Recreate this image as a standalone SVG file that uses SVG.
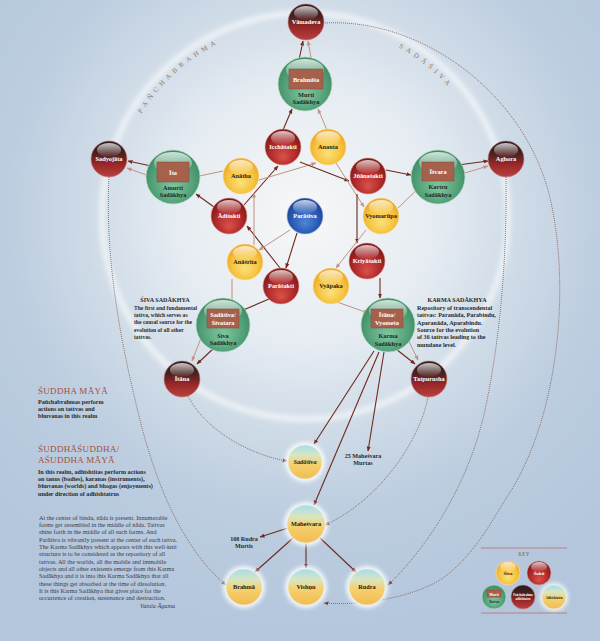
<svg xmlns="http://www.w3.org/2000/svg" width="600" height="641" viewBox="0 0 600 641">
<defs>
<radialGradient id="bg" gradientUnits="userSpaceOnUse" cx="305" cy="215" r="430">
<stop offset="0" stop-color="#f6f7f8"/><stop offset="0.3" stop-color="#e6ecf2"/><stop offset="0.5" stop-color="#cfdbe7"/><stop offset="0.7" stop-color="#bccde0"/><stop offset="1" stop-color="#b4c6dc"/>
</radialGradient>
<radialGradient id="gRed" cx="0.5" cy="0.6" r="0.6" fx="0.5" fy="0.8"><stop offset="0" stop-color="#d9514a"/><stop offset="0.6" stop-color="#b02a2a"/><stop offset="1" stop-color="#7a1616"/></radialGradient>
<linearGradient id="gDark" x1="0" y1="0" x2="0" y2="1"><stop offset="0" stop-color="#2a1a1a"/><stop offset="0.35" stop-color="#4a2020"/><stop offset="0.65" stop-color="#9a2828"/><stop offset="1" stop-color="#b84040"/></linearGradient>
<radialGradient id="gYel" cx="0.5" cy="0.55" r="0.6" fx="0.5" fy="0.7"><stop offset="0" stop-color="#fbe07a"/><stop offset="0.6" stop-color="#f6c440"/><stop offset="1" stop-color="#e8a01e"/></radialGradient>
<radialGradient id="gGrn" cx="0.5" cy="0.55" r="0.6" fx="0.5" fy="0.7"><stop offset="0" stop-color="#80c69e"/><stop offset="0.65" stop-color="#52a078"/><stop offset="1" stop-color="#3a855e"/></radialGradient>
<radialGradient id="gBlu" cx="0.5" cy="0.55" r="0.6" fx="0.5" fy="0.7"><stop offset="0" stop-color="#4f86d6"/><stop offset="0.6" stop-color="#2a5cb5"/><stop offset="1" stop-color="#1a3c8a"/></radialGradient>
<linearGradient id="gAdh" x1="0" y1="0" x2="0" y2="1"><stop offset="0" stop-color="#a6dcec"/><stop offset="0.3" stop-color="#d8e6c0"/><stop offset="0.55" stop-color="#f6d070"/><stop offset="1" stop-color="#f0bc50"/></linearGradient>
<linearGradient id="gHl" x1="0" y1="0" x2="0" y2="1"><stop offset="0" stop-color="#fff" stop-opacity="0.75"/><stop offset="1" stop-color="#fff" stop-opacity="0"/></linearGradient>
<filter id="blur" x="-50%" y="-50%" width="200%" height="200%"><feGaussianBlur stdDeviation="2.5"/></filter>
<filter id="glow" x="-50%" y="-50%" width="200%" height="200%"><feGaussianBlur stdDeviation="2"/></filter>
<marker id="ad" viewBox="0 0 10 10" refX="9" refY="5" markerWidth="5" markerHeight="5" orient="auto" markerUnits="userSpaceOnUse"><path d="M0,1 L10,5 L0,9 z" fill="#6e2a1c"/></marker>
<marker id="al" viewBox="0 0 10 10" refX="9" refY="5" markerWidth="5" markerHeight="5" orient="auto" markerUnits="userSpaceOnUse"><path d="M0,1 L10,5 L0,9 z" fill="#c09282"/></marker>
<marker id="ap" viewBox="0 0 10 10" refX="9" refY="5" markerWidth="5" markerHeight="5" orient="auto" markerUnits="userSpaceOnUse"><path d="M0,1 L10,5 L0,9 z" fill="#7a4030"/></marker>
<style>
.red{fill:url(#gRed);stroke:#e4a4a0;stroke-width:0.6}
.dark{fill:url(#gDark);stroke:#c88a8a;stroke-width:0.6}
.yel{fill:url(#gYel);stroke:#fbe6a8;stroke-width:0.6}
.grn{fill:url(#gGrn);stroke:#b4e0c8;stroke-width:0.7}
.blu{fill:url(#gBlu);stroke:#a8c0ea;stroke-width:0.6}
.adh{fill:url(#gAdh);stroke:#e8f0e0;stroke-width:0.6}
.hl{fill:url(#gHl)}
.halo{fill:#fff;opacity:0.85;filter:url(#glow)}
.rect{fill:#a5614b;stroke:#8a4a38;stroke-width:0.5}
text{font-family:"Liberation Serif",serif}
.wt{fill:#fff;font-size:6.3px;font-weight:bold;text-anchor:middle}
.dt{fill:#2a1a10;font-size:6.3px;font-weight:bold;text-anchor:middle}
.gt{fill:#1e2a1e;font-size:6.3px;font-weight:bold;text-anchor:middle}
.d{fill:none;stroke:#6e2a1c;stroke-width:1.1;marker-end:url(#ad)}
.l{fill:none;stroke:#c09282;stroke-width:1;marker-end:url(#al)}
.dot{fill:none;stroke:#7a5a50;stroke-width:0.9;stroke-dasharray:0.9 1.1;marker-end:url(#ap)}
.note{fill:#2a2a2a;font-size:6.1px;font-weight:bold}
.par{fill:#3a3a48;font-size:6.2px}
.head{fill:#a2503a;font-size:9px;letter-spacing:0.3px}
.arc{fill:#8c7a6e;font-size:7px;letter-spacing:4px}
.k{font-size:6px;font-weight:bold;text-anchor:middle}
</style>
</defs>
<rect width="600" height="641" fill="url(#bg)"/>
<circle cx="305" cy="216" r="203" fill="none" stroke="#ffffff" stroke-width="6" opacity="0.6" filter="url(#blur)"/>
<path id="arcP" d="M141.3,113.7 A193,193 0 0 1 271.5,25.9" fill="none"/>
<path id="arcS" d="M398.6,47.2 A193,193 0 0 1 463.1,105.2" fill="none"/>
<text class="arc"><textPath href="#arcP">PAÑCHABRAHMA</textPath></text>
<text class="arc"><textPath href="#arcS">SADĀŚIVA</textPath></text>

<g id="connectors">
<path class="dot" d="M325,23 C420,18 520,90 548,190 C572,280 560,420 505,500 C490,525 470,560 440,580 C410,598 360,606 324,603"/>
<path class="dot" d="M506,177 C507,260 500,340 485,410 C470,480 430,545 388,585"/>
<path class="dot" d="M109,177 C105,260 120,340 140,420 C160,500 190,555 226,585"/>
<path class="dot" d="M188,396 C205,430 250,455 287,461"/>
<path class="dot" d="M428,397 C420,440 380,500 325,525"/>
<line class="d" x1="299" y1="60" x2="303" y2="41"/>
<line class="l" x1="313" y1="69" x2="308" y2="41"/>
<line class="d" x1="283" y1="130" x2="292" y2="109"/>
<line class="l" x1="327" y1="130" x2="318" y2="109"/>
<line class="d" x1="156" y1="167" x2="128" y2="161"/>
<line class="l" x1="163" y1="181" x2="127" y2="168"/>
<line class="l" x1="223" y1="171" x2="190" y2="178"/>
<line class="d" x1="214" y1="207" x2="196" y2="194"/>
<line class="d" x1="244" y1="205" x2="278" y2="166"/>
<line class="l" x1="259" y1="180" x2="316" y2="163"/>
<line class="d" x1="300" y1="162" x2="349" y2="181"/>
<line class="l" x1="336" y1="163" x2="364" y2="207"/>
<line class="d" x1="386" y1="170" x2="411" y2="175"/>
<line class="d" x1="458" y1="165" x2="488" y2="161"/>
<line class="l" x1="455" y1="176" x2="488" y2="166"/>
<line class="l" x1="398" y1="208" x2="426" y2="181"/>
<line class="d" x1="357" y1="194" x2="357" y2="243"/>
<line class="d" x1="297" y1="233" x2="286" y2="268"/>
<line class="d" x1="280" y1="268" x2="247" y2="226"/>
<line class="l" x1="290" y1="230" x2="259" y2="250"/>
<line class="l" x1="254" y1="245" x2="254" y2="193"/>
<line class="l" x1="232" y1="279" x2="232" y2="307"/>
<line class="d" x1="269" y1="299" x2="241" y2="311"/>
<line class="l" x1="205" y1="328" x2="192" y2="361"/>
<line class="d" x1="215" y1="347" x2="197" y2="364"/>
<line class="l" x1="366" y1="230" x2="336" y2="268"/>
<line class="l" x1="337" y1="302" x2="368" y2="313"/>
<line class="d" x1="380" y1="278" x2="380" y2="298"/>
<line class="l" x1="402" y1="327" x2="418" y2="360"/>
<line class="d" x1="396" y1="349" x2="415" y2="364"/>
<line class="d" x1="374" y1="351" x2="314" y2="444"/>
<line class="d" x1="379" y1="352" x2="314" y2="505"/>
<line class="d" x1="384" y1="352" x2="368" y2="451"/>
<line class="d" x1="288" y1="528" x2="260" y2="537"/>
<line class="d" x1="293" y1="538" x2="255" y2="572"/>
<line class="d" x1="306" y1="543" x2="306" y2="568"/>
<line class="d" x1="320" y1="538" x2="356" y2="572"/>
</g>

<g id="vamadeva"><circle class="dark" cx="306" cy="22" r="18"/><ellipse class="hl" cx="306" cy="13" rx="12" ry="7"/><text class="wt" x="306" y="24">Vāmadeva</text></g>
<g id="murti"><circle class="grn" cx="305" cy="84" r="27"/><ellipse class="hl" cx="305" cy="70" rx="19" ry="11"/><rect class="rect" x="289" y="69" width="34" height="20"/><text class="wt" x="306" y="81.5">Brahmīśa</text><text class="gt" x="306" y="97">Murti</text><text class="gt" x="306" y="104">Sadākhya</text></g>
<g id="sadyojata"><circle class="dark" cx="109" cy="159" r="18"/><ellipse class="hl" cx="109" cy="150" rx="12" ry="7"/><text class="wt" x="109" y="161">Sadyojāta</text></g>
<g id="amurti"><circle class="grn" cx="173" cy="177" r="27"/><ellipse class="hl" cx="173" cy="163" rx="19" ry="11"/><rect class="rect" x="157" y="162" width="32" height="20"/><text class="wt" x="173" y="174.5">Īśa</text><text class="gt" x="173" y="190">Amurti</text><text class="gt" x="173" y="197">Sadākhya</text></g>
<g id="icchasakti"><circle class="red" cx="283" cy="147" r="18"/><ellipse class="hl" cx="283" cy="138" rx="12" ry="7"/><text class="wt" x="283" y="149">Icchāśakti</text></g>
<g id="ananta"><circle class="yel" cx="328" cy="147" r="18"/><ellipse class="hl" cx="328" cy="138" rx="12" ry="7"/><text class="dt" x="328" y="149">Ananta</text></g>
<g id="anatha"><circle class="yel" cx="241" cy="176" r="18"/><ellipse class="hl" cx="241" cy="167" rx="12" ry="7"/><text class="dt" x="241" y="178">Anātha</text></g>
<g id="jnanasakti"><circle class="red" cx="368" cy="176" r="18"/><ellipse class="hl" cx="368" cy="167" rx="12" ry="7"/><text class="wt" x="368" y="178">Jñānaśakti</text></g>
<g id="kartru"><circle class="grn" cx="438" cy="177" r="27"/><ellipse class="hl" cx="438" cy="163" rx="19" ry="11"/><rect class="rect" x="422" y="162" width="32" height="19"/><text class="wt" x="438" y="174">Īśvara</text><text class="gt" x="438" y="189">Kartru</text><text class="gt" x="438" y="197">Sadākhya</text></g>
<g id="aghora"><circle class="dark" cx="506" cy="159" r="18"/><ellipse class="hl" cx="506" cy="150" rx="12" ry="7"/><text class="wt" x="506" y="161">Aghora</text></g>
<g id="adisakti"><circle class="red" cx="229" cy="216" r="18"/><ellipse class="hl" cx="229" cy="207" rx="12" ry="7"/><text class="wt" x="229" y="218">Ādiśakti</text></g>
<g id="parasiva"><circle class="blu" cx="305" cy="216" r="18"/><ellipse class="hl" cx="305" cy="207" rx="12" ry="7"/><text class="wt" x="305" y="218">Parāśiva</text></g>
<g id="vyomarupa"><circle class="yel" cx="381" cy="216" r="18"/><ellipse class="hl" cx="381" cy="207" rx="12" ry="7"/><text class="dt" x="381" y="218">Vyomarūpa</text></g>
<g id="anasrita"><circle class="yel" cx="245" cy="262" r="18"/><ellipse class="hl" cx="245" cy="253" rx="12" ry="7"/><text class="dt" x="245" y="264">Anāśrita</text></g>
<g id="kriyasakti"><circle class="red" cx="367" cy="261" r="18"/><ellipse class="hl" cx="367" cy="252" rx="12" ry="7"/><text class="wt" x="367" y="263">Kriyāśakti</text></g>
<g id="parasakti"><circle class="red" cx="281" cy="286" r="18"/><ellipse class="hl" cx="281" cy="277" rx="12" ry="7"/><text class="wt" x="281" y="288">Parāśakti</text></g>
<g id="vyapaka"><circle class="yel" cx="331" cy="286" r="18"/><ellipse class="hl" cx="331" cy="277" rx="12" ry="7"/><text class="dt" x="331" y="288">Vyāpaka</text></g>
<g id="siva-sadakhya"><circle class="grn" cx="223" cy="325" r="27"/><ellipse class="hl" cx="223" cy="311" rx="19" ry="11"/><rect class="rect" x="207" y="309" width="32" height="19"/><text class="wt" x="223" y="317">Sadāśiva/</text><text class="wt" x="223" y="325">Śivatara</text><text class="gt" x="223" y="338">Śiva</text><text class="gt" x="223" y="345">Sadākhya</text></g>
<g id="karma-sadakhya"><circle class="grn" cx="388" cy="325" r="27"/><ellipse class="hl" cx="388" cy="311" rx="19" ry="11"/><rect class="rect" x="371" y="309" width="32" height="19"/><text class="wt" x="387" y="317">Īśāna/</text><text class="wt" x="387" y="325">Vyomeśa</text><text class="gt" x="388" y="338">Karma</text><text class="gt" x="388" y="346">Sadākhya</text></g>
<g id="isana"><circle class="dark" cx="182" cy="379" r="18"/><ellipse class="hl" cx="182" cy="370" rx="12" ry="7"/><text class="wt" x="182" y="381">Īśāna</text></g>
<g id="tatpurusha"><circle class="dark" cx="429" cy="379" r="18"/><ellipse class="hl" cx="429" cy="370" rx="12" ry="7"/><text class="wt" x="429" y="381">Tatpurusha</text></g>
<g id="sadasiva"><circle class="halo" cx="305" cy="462" r="20"/><circle class="adh" cx="305" cy="462" r="17"/><text class="dt" x="305" y="464" font-style="italic">Sadāśiva</text></g>
<g id="mahesvara"><circle class="halo" cx="306" cy="524" r="22"/><circle class="adh" cx="306" cy="524" r="19"/><text class="dt" x="306" y="526">Maheśvara</text></g>
<g id="brahma"><circle class="halo" cx="244" cy="587" r="21"/><circle class="adh" cx="244" cy="587" r="18"/><text class="dt" x="244" y="589">Brahmā</text></g>
<g id="vishnu"><circle class="halo" cx="306" cy="587" r="21"/><circle class="adh" cx="306" cy="587" r="18"/><text class="dt" x="306" y="589">Vishṇu</text></g>
<g id="rudra"><circle class="halo" cx="367" cy="587" r="21"/><circle class="adh" cx="367" cy="587" r="18"/><text class="dt" x="367" y="589">Rudra</text></g>

<g id="labels">
<text class="note" x="363" y="458" text-anchor="middle" font-weight="normal" fill="#222">25 Maheśvara</text>
<text class="note" x="363" y="465" text-anchor="middle" font-weight="normal" fill="#222">Murtas</text>
<text class="note" x="244" y="541" text-anchor="middle" font-weight="normal" fill="#222">108 Rudra</text>
<text class="note" x="244" y="548" text-anchor="middle" font-weight="normal" fill="#222">Murtis</text>
<text class="note" x="165" y="302" text-anchor="middle">ŚIVA SADĀKHYA</text>
<g transform="matrix(0.92 0 0 1 10.72 0)">
<text class="note" x="134" y="310">The first and fundamental</text>
<text class="note" x="134" y="317">tattva, which serves as</text>
<text class="note" x="134" y="324">the causal source for the</text>
<text class="note" x="134" y="332">evolution of all other</text>
<text class="note" x="134" y="339">tattvas.</text>
</g>
<text class="note" x="457" y="302" text-anchor="middle">KARMA SADĀKHYA</text>
<text class="note" x="417" y="310">Repository of transcendental</text>
<text class="note" x="417" y="317">tattvas: Paranāda, Parabindu,</text>
<text class="note" x="417" y="325">Aparanāda, Aparabindu.</text>
<text class="note" x="417" y="332">Source for the evolution</text>
<text class="note" x="417" y="339">of 36 tattvas leading to the</text>
<text class="note" x="417" y="347">mundane level.</text>
<text class="head" x="38" y="394">ŚUDDHA MĀYĀ</text>
<text class="note" x="38" y="404">Pañchabrahmas perform</text>
<text class="note" x="38" y="411">actions on tattvas and</text>
<text class="note" x="38" y="418">bhuvanas in this realm</text>
<text class="head" x="38" y="452">ŚUDDHĀŚUDDHA/</text>
<text class="head" x="38" y="463">AŚUDDHA MĀYĀ</text>
<text class="note" x="38" y="474">In this realm, adhishtitas perform actions</text>
<text class="note" x="38" y="481">on tanus (bodies), karanas (instruments),</text>
<text class="note" x="38" y="488">bhuvanas (worlds) and bhogas (enjoyments)</text>
<text class="note" x="38" y="496">under direction of adhishtatrus</text>
<text class="par" x="39" y="520">At the center of bindu, nāda is present. Innumerable</text>
<text class="par" x="39" y="527">forms get assembled in the middle of nāda. Tattvas</text>
<text class="par" x="39" y="534">shine forth in the middle of all such forms. And</text>
<text class="par" x="39" y="542">Parāśiva is vibrantly present at the center of each tattva.</text>
<text class="par" x="39" y="549">The Karma Sadākhya which appears with this well-knit</text>
<text class="par" x="39" y="556">structure is to be considered as the repository of all</text>
<text class="par" x="39" y="564">tattvas. All the worlds, all the mobile and immobile</text>
<text class="par" x="39" y="571">objects and all other existents emerge from this Karma</text>
<text class="par" x="39" y="578">Sadākhya and it is into this Karma Sadākhya that all</text>
<text class="par" x="39" y="586">these things get absorbed at the time of dissolution.</text>
<text class="par" x="39" y="593">It is this Karma Sadākhya that gives place for the</text>
<text class="par" x="39" y="600">occurrence of creation, sustenance and destruction.</text>
<text class="par" x="175" y="608" text-anchor="end" font-style="italic">Vatula Āgama</text>
</g>

<g id="key">
<line x1="481" y1="548" x2="567" y2="548" stroke="#b87070" stroke-width="0.8"/>
<text x="524" y="556" text-anchor="middle" font-size="6px" fill="#666" letter-spacing="0.4" transform="translate(524 556) scale(0.85) translate(-524 -556)">KEY</text>
<circle class="yel" cx="508" cy="573" r="12"/><ellipse class="hl" cx="508" cy="567" rx="8" ry="5"/>
<text class="k" fill="#2a1a10" transform="translate(508 575) scale(0.8)">Śiva</text>
<circle class="red" cx="539" cy="573" r="12"/><ellipse class="hl" cx="539" cy="567" rx="8" ry="5"/>
<text class="k" fill="#fff" transform="translate(539 575) scale(0.8)">Śakti</text>
<circle class="grn" cx="494" cy="597" r="12"/><rect class="rect" x="487" y="590" width="14" height="7"/>
<text class="k" fill="#fff" transform="translate(494 595.5) scale(0.62)">Murti</text>
<text class="k" fill="#1e2a1e" transform="translate(494 602.5) scale(0.62)">Tattva</text>
<circle class="dark" cx="523" cy="597" r="12"/>
<text class="k" fill="#fff" transform="translate(523 596) scale(0.5)">Pañchabrahma</text>
<text class="k" fill="#fff" transform="translate(523 599.8) scale(0.5)">adhishtatru</text>
<circle class="halo" cx="554" cy="597" r="14"/><circle class="adh" cx="554" cy="597" r="12"/>
<text class="k" fill="#2a1a10" transform="translate(554 598.5) scale(0.55)">Adhishtatru</text>
<line x1="481" y1="613" x2="567" y2="613" stroke="#b87070" stroke-width="0.8"/>
</g>
</svg>
